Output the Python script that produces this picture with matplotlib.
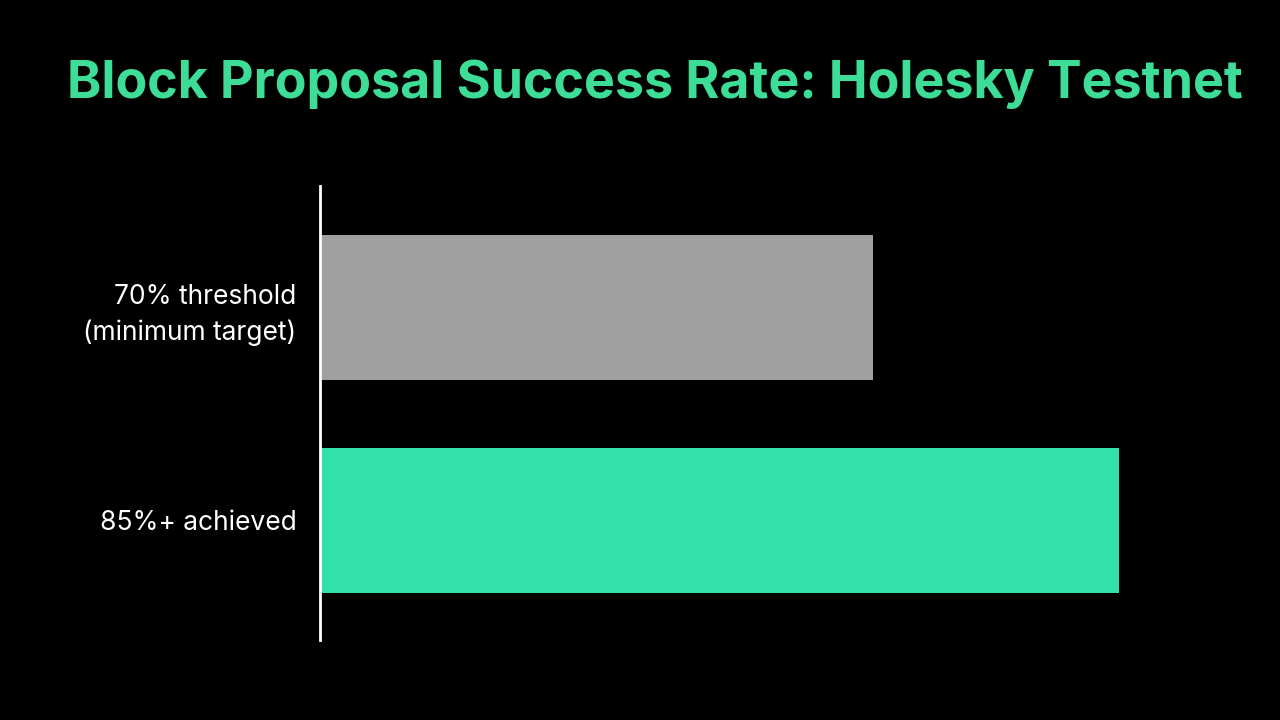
import matplotlib
matplotlib.use("Agg")
import matplotlib.pyplot as plt

# data
categories = ["85%+ achieved", "70% threshold\n(minimum target)"]
values = [85, 70]
bar_colors = ["#33e0aa", "#a0a0a0"]

title = "Block Proposal Success Rate: Holesky Testnet"

plt.rcParams["font.family"] = ["Inter", "DejaVu Sans"]

fig = plt.figure(figsize=(12.8, 7.2), dpi=100, facecolor="black")
ax = fig.add_axes([0.25, 0.1111, 0.71875, 0.6306], facecolor="black")

ax.barh(range(len(categories)), values, height=0.68, color=bar_colors)

# axis doesn't start at zero in the original
ax.set_xlim(36.28, 92.38)
ax.set_ylim(-0.561, 1.570)

ax.set_yticks(range(len(categories)))
ax.set_yticklabels(categories, color="white", fontsize=19, linespacing=1.45)
ax.tick_params(axis="y", length=0, pad=17)
ax.set_xticks([])

for s in ["top", "right", "bottom"]:
    ax.spines[s].set_visible(False)
ax.spines["left"].set_color("white")
ax.spines["left"].set_linewidth(2)

fig.text(0.5113, 0.8639, title, color="#3ddc97", fontsize=37.4, fontweight="bold",
         ha="center", va="baseline")

fig.savefig("out.png", dpi=100, facecolor="black")
